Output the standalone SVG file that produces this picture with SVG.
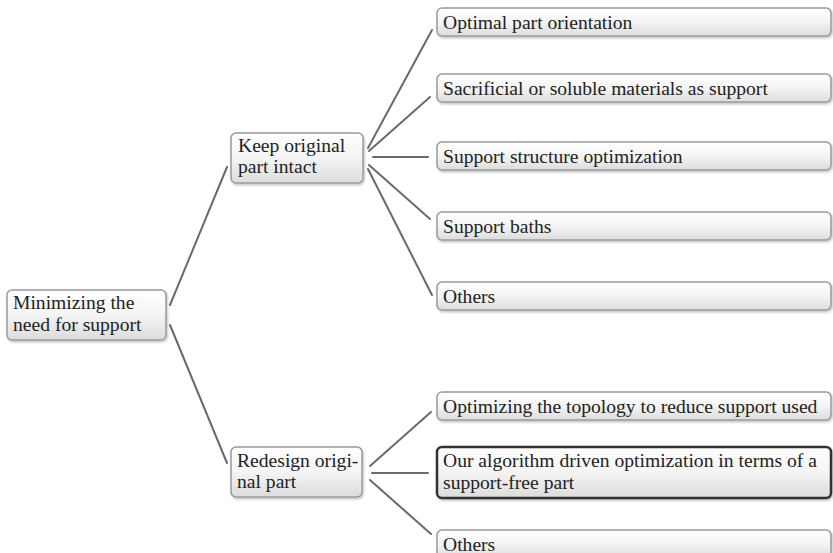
<svg xmlns="http://www.w3.org/2000/svg" width="833" height="553" viewBox="0 0 833 553">
<defs>
<linearGradient id="g" x1="0" y1="0" x2="0" y2="1">
<stop offset="0" stop-color="#ffffff"/>
<stop offset="0.5" stop-color="#f4f4f4"/>
<stop offset="1" stop-color="#dcdcdc"/>
</linearGradient>
<filter id="sh" x="-5%" y="-20%" width="110%" height="150%">
<feDropShadow dx="1" dy="1.5" stdDeviation="1" flood-color="#000" flood-opacity="0.25"/>
</filter>
</defs>
<style>
.box{fill:url(#g);stroke:#9a9a9a;stroke-width:1.5;filter:url(#sh)}
.hl{fill:url(#g);stroke:#333;stroke-width:2.5;filter:url(#sh)}
text{font-family:"Liberation Serif","Times New Roman",serif;font-size:19.6px;fill:#222}
.c line{stroke:#6a6a6a;stroke-width:2;stroke-linecap:round}
</style>
<rect width="833" height="553" fill="#fff"/>
<g class="c" id="connectors">
<line x1="170" y1="305" x2="227" y2="167"/>
<line x1="170" y1="325" x2="227" y2="463"/>
<line x1="368" y1="148" x2="432" y2="30"/>
<line x1="369" y1="151" x2="430" y2="97"/>
<line x1="373" y1="157" x2="428" y2="157"/>
<line x1="369" y1="165" x2="430" y2="219"/>
<line x1="368" y1="169" x2="432" y2="295"/>
<line x1="370" y1="466" x2="431" y2="412"/>
<line x1="372" y1="473" x2="428" y2="473"/>
<line x1="370" y1="480" x2="431" y2="534"/>
</g>
<g id="root"><rect class="box" x="7" y="290" width="159" height="50" rx="5"/>
<text x="13" y="309">Minimizing the</text><text x="13" y="331">need for support</text></g>
<g id="keep"><rect class="box" x="231" y="133" width="132" height="50" rx="5"/>
<text x="238" y="152">Keep original</text><text x="238" y="173">part intact</text></g>
<g id="redesign"><rect class="box" x="231" y="447" width="131" height="50" rx="5"/>
<text x="237" y="467">Redesign origi-</text><text x="237" y="488">nal part</text></g>
<g id="n1"><rect class="box" x="437" y="8" width="394" height="28" rx="5"/><text x="443" y="28.5">Optimal part orientation</text></g>
<g id="n2"><rect class="box" x="437" y="74" width="394" height="28" rx="5"/><text x="443" y="94.5">Sacrificial or soluble materials as support</text></g>
<g id="n3"><rect class="box" x="437" y="142" width="394" height="28" rx="5"/><text x="443" y="162.5">Support structure optimization</text></g>
<g id="n4"><rect class="box" x="437" y="212" width="394" height="28" rx="5"/><text x="443" y="232.5">Support baths</text></g>
<g id="n5"><rect class="box" x="437" y="282" width="394" height="28" rx="5"/><text x="443" y="302.5">Others</text></g>
<g id="n6"><rect class="box" x="437" y="392" width="394" height="28" rx="5"/><text x="443" y="412.5">Optimizing the topology to reduce support used</text></g>
<g id="n7"><rect class="hl" x="437" y="447" width="394" height="51" rx="5"/><text x="443" y="467">Our algorithm driven optimization in terms of a</text><text x="443" y="489">support-free part</text></g>
<g id="n8"><rect class="box" x="437" y="530" width="394" height="28" rx="5"/><text x="443" y="550.5">Others</text></g>
</svg>
